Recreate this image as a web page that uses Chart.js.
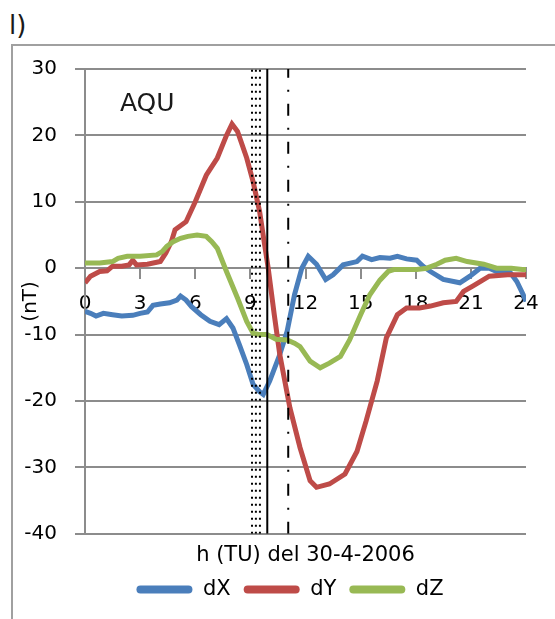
<!DOCTYPE html>
<html>
<head>
<meta charset="utf-8">
<script src="https://cdn.jsdelivr.net/npm/chart.js@4.4.1/dist/chart.umd.min.js"></script>
<style>
body { margin: 0; background: #fff; }
#wrap { position: relative; width: 555px; height: 619px; overflow: hidden; }
#frame { position: absolute; left: 11px; top: 44px; right: -5px; bottom: -5px; border-left: 2px solid #a0a0a0; border-top: 2px solid #a0a0a0; }
#lab { position: absolute; left: 9px; top: 10px; font: 26px "DejaVu Sans"; color: #1a1a1a; }
#mycanvas { position: absolute; left: 0; top: 0; }
</style>
</head>
<body>
<div id="wrap">
  <div id="frame"></div>
  <div id="lab">l)</div>
  <canvas id="mycanvas" width="555" height="619"></canvas>
</div>
<script>
// station + axis title
const stationName = 'AQU';
const xTitle = 'h (TU) del 30-4-2006';
const yTitle = '(nT)';

// dX (blue)
const hoursX = [0, 0.3, 0.6, 1.0, 1.5, 2.0, 2.6, 3.0, 3.4, 3.7, 4.1, 4.6, 5.0, 5.2, 5.5, 5.8, 6.3, 6.8, 7.3, 7.7,
  8.05, 8.4, 8.8, 9.15, 9.5, 9.7, 10.05, 10.6, 11.0, 11.4, 11.8, 12.15, 12.6, 13.1, 13.5, 14.05, 14.8, 15.1, 15.6,
  16.05, 16.6, 17.0, 17.5, 18.05, 18.4, 18.8, 19.5, 20.4, 20.95, 21.5, 22.0, 22.4, 23.1, 23.5, 23.85, 24];
const dX = [-6.5, -6.8, -7.2, -6.8, -7.0, -7.2, -7.1, -6.8, -6.6, -5.6, -5.4, -5.2, -4.8, -4.2, -4.8, -5.8, -7.0, -8.0, -8.5, -7.6,
  -9.0, -11.5, -14.5, -17.5, -18.6, -19.0, -17.0, -13.0, -9.5, -4.0, 0, 1.8, 0.6, -1.7, -1.0, 0.5, 1.0, 1.8, 1.3,
  1.6, 1.5, 1.8, 1.4, 1.2, 0.3, -0.5, -1.7, -2.2, -1.2, 0, 0, -0.5, -0.5, -2.0, -4.0, -5.0];

// dY (red)
const hoursY = [0, 0.3, 0.8, 1.2, 1.5, 2.0, 2.4, 2.6, 2.8, 3.4, 4.1, 4.4, 4.7, 4.9, 5.5, 6.0, 6.6, 7.2, 7.7, 8.0,
  8.3, 8.8, 9.15, 9.5, 9.75, 9.97, 10.3, 10.6, 11.15, 11.7, 12.25, 12.6, 13.3, 14.15, 14.8, 15.3, 15.9, 16.4, 17.0,
  17.5, 18.2, 18.8, 19.5, 20.2, 20.6, 21.1, 22.0, 23.0, 24];
const dY = [-2.2, -1.2, -0.5, -0.4, 0.3, 0.3, 0.5, 1.2, 0.5, 0.6, 1.0, 2.3, 4.0, 5.8, 7.0, 10.0, 14.0, 16.6, 20.0, 21.7,
  20.6, 16.6, 13.0, 8.6, 4.0, 0, -7.0, -13.0, -21.0, -27.0, -32.0, -33.0, -32.5, -31.0, -27.6, -23.0, -17.0, -10.5, -7.0,
  -6.0, -6.0, -5.7, -5.2, -5.0, -3.5, -2.7, -1.2, -1.0, -1.0];

// dZ (green)
const hoursZ = [0, 0.8, 1.5, 1.8, 2.3, 3.0, 3.9, 4.2, 4.45, 4.8, 5.2, 5.6, 6.1, 6.6, 6.9, 7.2, 7.7, 8.3, 8.8, 9.15,
  9.5, 9.9, 10.4, 11.0, 11.4, 11.7, 12.25, 12.8, 13.3, 13.9, 14.4, 15.0, 15.5, 16.05, 16.5, 16.8, 18.05, 18.6, 19.15,
  19.6, 20.2, 20.8, 21.7, 22.4, 23.2, 23.8, 24];
const dZ = [0.8, 0.8, 1.0, 1.5, 1.8, 1.8, 2.0, 2.5, 3.3, 4.0, 4.5, 4.8, 5.0, 4.8, 4.0, 3.0, -0.5, -4.5, -8.0, -9.8,
  -10.0, -10.0, -10.7, -10.8, -11.3, -11.8, -14.0, -15.0, -14.3, -13.3, -10.8, -7.0, -4.0, -1.8, -0.5, -0.2, -0.2, 0, 0.6,
  1.2, 1.5, 1.0, 0.6, 0, 0, -0.2, -0.2];

// marker lines (hours)
const dottedHours = [9.09, 9.30, 9.52];
const solidHour = 9.92;
const dashDotHour = 11.06;

const yMin = -40, yMax = 30;

function pts(hs, vs) {
  return hs.map(function (h, i) { return { x: h, y: vs[i] }; });
}
function vline(h) {
  return [{ x: h, y: yMin }, { x: h, y: yMax }];
}

Chart.defaults.font.family = "'DejaVu Sans'";
Chart.defaults.color = '#000';

var datasets = [
  { label: 'dX', data: pts(hoursX, dX), borderColor: '#4a7ebb', backgroundColor: '#4a7ebb', order: 3 },
  { label: 'dY', data: pts(hoursY, dY), borderColor: '#be4b48', backgroundColor: '#be4b48', order: 2 },
  { label: 'dZ', data: pts(hoursZ, dZ), borderColor: '#98b954', backgroundColor: '#98b954', order: 1 }
];
datasets.forEach(function (d) {
  d.borderWidth = 5;
  d.pointRadius = 0;
  d.tension = 0;
  d.fill = false;
});
dottedHours.forEach(function (h) {
  datasets.push({ label: 'dot', data: vline(h), borderColor: '#000', borderWidth: 2, borderDash: [2, 5], pointRadius: 0, order: 0 });
});
datasets.push({ label: 'sol', data: vline(solidHour), borderColor: '#000', borderWidth: 2, pointRadius: 0, order: 0 });
datasets.push({ label: 'dd', data: vline(dashDotHour), borderColor: '#000', borderWidth: 2, borderDash: [12, 12, 2, 12], pointRadius: 0, order: 0 });

const aquPlugin = {
  id: 'aqu',
  afterDraw: function (chart) {
    var ctx = chart.ctx;
    ctx.save();
    ctx.font = "25px 'DejaVu Sans'";
    ctx.fillStyle = '#1a1a1a';
    ctx.textBaseline = 'middle';
    ctx.fillText(stationName, chart.scales.x.getPixelForValue(1.9), chart.scales.y.getPixelForValue(24.7));
    ctx.restore();
  }
};

var gridCol = '#8c8c8c';
var ctx = document.getElementById('mycanvas');
var chart = new Chart(ctx, {
  type: 'line',
  data: { datasets: datasets },
  plugins: [aquPlugin],
  options: {
    responsive: false,
    animation: false,
    // negative right padding + spacer axis keep the legend centred like the original
    layout: { padding: { left: 16, right: -9, top: 69, bottom: 9 } },
    plugins: {
      tooltip: { enabled: false },
      legend: {
        position: 'bottom',
        labels: {
          boxWidth: 56,
          boxHeight: 8,
          padding: 13,
          color: '#000',
          font: { size: 21 },
          filter: function (item) { return item.datasetIndex < 3; },
          sort: function (a, b) { return a.datasetIndex - b.datasetIndex; },
          generateLabels: function (chart) {
            var items = Chart.defaults.plugins.legend.labels.generateLabels(chart);
            items.forEach(function (it) { it.lineWidth = 0; it.borderRadius = 4; });
            return items;
          }
        }
      }
    },
    scales: {
      x: {
        type: 'linear',
        position: { y: 0 },
        min: 0,
        max: 24,
        ticks: { stepSize: 3, padding: 14, font: { size: 20 }, maxRotation: 0, autoSkip: false },
        grid: { drawOnChartArea: false, drawTicks: true, tickLength: 10, color: gridCol, lineWidth: 2 },
        border: { color: gridCol, width: 2 }
      },
      xt: {
        type: 'linear',
        position: 'bottom',
        min: 0,
        max: 24,
        ticks: { display: false },
        grid: { display: false, drawTicks: false },
        border: { display: false },
        title: { display: true, text: xTitle, font: { size: 21 }, padding: { top: 9, bottom: -2 } }
      },
      y: {
        min: yMin,
        max: yMax,
        ticks: { stepSize: 10, padding: 18, font: { size: 20 } },
        grid: { color: gridCol, lineWidth: 2, tickLength: 10 },
        border: { color: gridCol, width: 2 },
        title: { display: true, text: yTitle, font: { size: 20 }, padding: { top: 3, bottom: 0 } },
        afterFit: function (s) { s.width = 69; }
      },
      yr: {
        position: 'right',
        ticks: { display: false },
        grid: { display: false, drawTicks: false },
        border: { display: false },
        afterFit: function (s) { s.width = 38; }
      }
    }
  }
});
console.log(chart.chartArea);
</script>
</body>
</html>
